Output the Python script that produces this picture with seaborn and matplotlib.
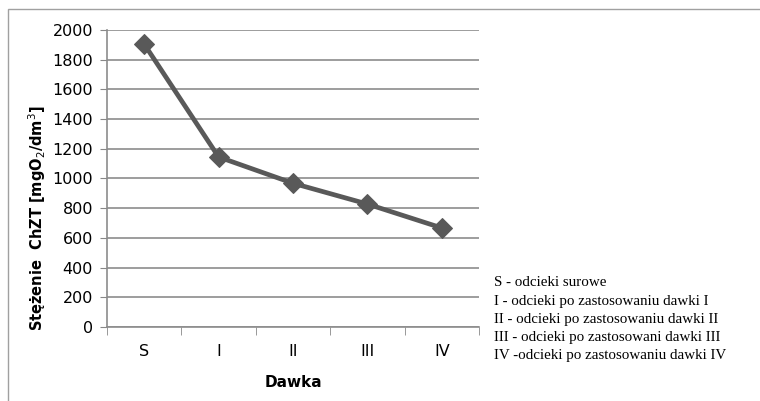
import numpy as np
import pandas as pd
import matplotlib
matplotlib.use('Agg')
import matplotlib.pyplot as plt
from matplotlib.patches import Rectangle
from matplotlib.ticker import FixedLocator
import seaborn as sns

# Dane
dawki = ['S', 'I', 'II', 'III', 'IV']
chzt = [1905, 1145, 968, 828, 667]
opisy = [
    'S - odcieki surowe',
    'I - odcieki po zastosowaniu dawki I',
    'II - odcieki po zastosowaniu dawki II',
    'III - odcieki po zastosowani dawki III',
    'IV -odcieki po zastosowaniu dawki IV',
]
y_ticks = [0, 200, 400, 600, 800, 1000, 1200, 1400, 1600, 1800, 2000]

df = pd.DataFrame({'Dawka': dawki, 'ChZT': chzt})

sns.set_style('white')
plt.rcParams['font.family'] = ['DejaVu Sans']
plt.rcParams['text.color'] = 'black'
plt.rcParams['axes.labelcolor'] = 'black'
plt.rcParams['xtick.labelcolor'] = 'black'
plt.rcParams['ytick.labelcolor'] = 'black'

fig = plt.figure(figsize=(7.6, 4.01), dpi=100)
ax = fig.add_axes([107 / 760, 1 - 327 / 401, (479 - 107) / 760, (327 - 30) / 401])

# Linia z markerami
sns.lineplot(data=df, x='Dawka', y='ChZT', ax=ax, color='#595959', linewidth=3.4,
             marker='D', markersize=10, markeredgecolor='#595959', sort=False)

ax.set_xlim(-0.5, len(dawki) - 0.5)
ax.set_ylim(0, 2000)
ax.set_yticks(y_ticks)
ax.set_yticklabels([str(v) for v in y_ticks], fontsize=11.5)
ax.set_xticks(range(len(dawki)))
ax.set_xticklabels(dawki, fontsize=11.5)
ax.xaxis.set_minor_locator(FixedLocator(np.arange(-0.5, len(dawki), 1.0)))
ax.tick_params(axis='x', which='major', length=0, pad=12)
ax.tick_params(axis='x', which='minor', length=6, color='#888888', direction='out', bottom=True)
ax.tick_params(axis='y', length=5, color='#888888', direction='out', left=True, pad=5)

ax.grid(axis='y', color='#8c8c8c', linewidth=1.2)
ax.set_axisbelow(True)
for s in ['top', 'right']:
    ax.spines[s].set_visible(False)
for s in ['left', 'bottom']:
    ax.spines[s].set_color('#8c8c8c')
    ax.spines[s].set_linewidth(1.2)

ax.set_xlabel('Dawka', fontsize=11, fontweight='bold', labelpad=12)
ax.set_ylabel('Stężenie  ChZT [mgO$_2$/dm$^3$]', fontsize=10.5, fontweight='bold')
ax.yaxis.set_label_coords(-0.158, 0.367)

# Opis dawek
for i, t in enumerate(opisy):
    fig.text(494 / 760, 1 - (283 + 18 * i) / 401, t, fontsize=10.8,
             family=['Liberation Serif', 'DejaVu Serif'], va='center')

# Ramka wykresu
fig.patches.append(Rectangle((8 / 760, -0.01), 1.0, 1 - 9 / 401 + 0.01,
                             transform=fig.transFigure, fill=False,
                             edgecolor='#a0a0a0', linewidth=1))

fig.savefig('out.png', dpi=100)
